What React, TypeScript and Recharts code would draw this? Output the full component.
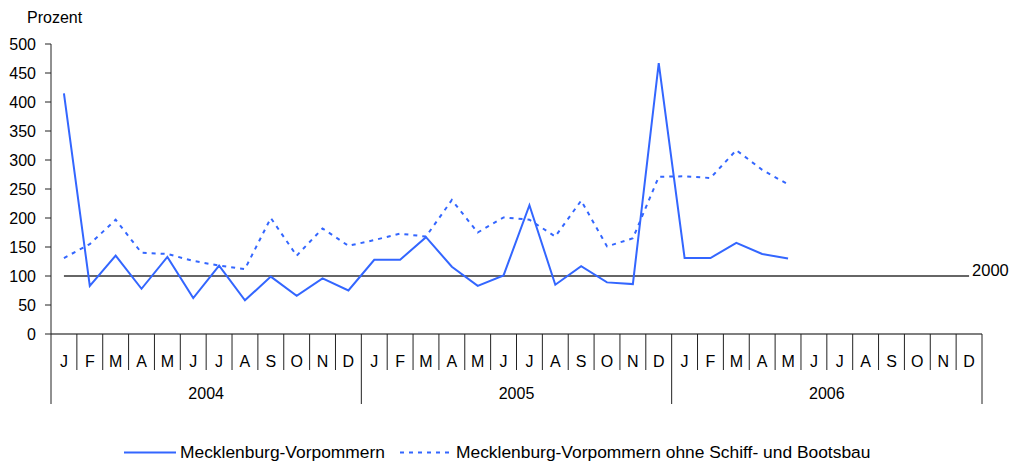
import { Legend, Line, LineChart, ReferenceLine, XAxis, YAxis } from "recharts";

const monthLetters = ["J", "F", "M", "A", "M", "J", "J", "A", "S", "O", "N", "D"];
const years = ["2004", "2005", "2006"];
const yTicks = [0, 50, 100, 150, 200, 250, 300, 350, 400, 450, 500];

// Index 2000 = 100, Monatswerte Jan 2004 – Dez 2006
const mvValues = [
  415, 83, 135, 78, 133, 62, 118, 58, 99, 66, 96, 75,
  128, 128, 167, 116, 83, 101, 222, 85, 117, 89, 86, 467,
  131, 131, 157, 138, 130, null, null, null, null, null, null, null
];
const mvOhneSchiffValues = [
  131, 155, 197, 140, 138, 126, 118, 112, 200, 135, 182, 152,
  162, 173, 168, 231, 175, 201, 197, 168, 230, 151, 165, 271,
  272, 269, 317, 283, 258, null, null, null, null, null, null, null
];
const baseValue = 100;
const baseLabel = "2000";

const seriesNames = ["Mecklenburg-Vorpommern", "Mecklenburg-Vorpommern ohne Schiff- und Bootsbau"];

const data = years.flatMap((year, yi) =>
  monthLetters.map((m, mi) => {
    const i = yi * 12 + mi;
    return {
      key: `${year}-${mi}`,
      month: m,
      year,
      mv: mvValues[i],
      mvOhne: mvOhneSchiffValues[i]
    };
  })
);

const FONT = "'Liberation Sans', Arial, sans-serif";
const BLUE = "#3366ff";
const CHART_W = 1015;
const CHART_H = 466;
const MARGIN = { top: 44, right: 33, left: 0, bottom: 2 };
const Y_AXIS_W = 51;
const BAND = (CHART_W - MARGIN.right - MARGIN.left - Y_AXIS_W) / data.length;

function MonthTick(props: any) {
  const { x, y, payload } = props;
  const idx = payload.index as number;
  const entry = data[idx];
  const left = x - BAND / 2;
  const isYearStart = idx % 12 === 0;
  return (
    <g>
      <line x1={left} x2={left} y1={y} y2={y + (isYearStart ? 70 : 36)} stroke="#222" strokeWidth={1} />
      {idx === data.length - 1 && (
        <line x1={x + BAND / 2} x2={x + BAND / 2} y1={y} y2={y + 70} stroke="#222" strokeWidth={1} />
      )}
      <text x={x} y={y + 27} textAnchor="middle" dominantBaseline="central" fontSize={16} fontFamily={FONT} fill="#000">
        {entry.month}
      </text>
      {idx % 12 === 5 && (
        <text x={x + BAND / 2} y={y + 59} textAnchor="middle" dominantBaseline="central" fontSize={16} fontFamily={FONT} fill="#000">
          {entry.year}
        </text>
      )}
    </g>
  );
}

function ProzentLabel(props: any) {
  const vb = props.viewBox || { x: 0, y: MARGIN.top };
  return (
    <text x={vb.x + 27} y={vb.y - 27} dominantBaseline="central" fontSize={16} fontFamily={FONT} fill="#000">
      Prozent
    </text>
  );
}

function BaseLabel(props: any) {
  const vb = props.viewBox || {};
  const x = (vb.x ?? 0) + (vb.width ?? 0) + 3;
  const y = (vb.y ?? 0) - 6;
  return (
    <text x={x} y={y} dominantBaseline="central" fontSize={16.5} fontFamily={FONT} fill="#000">
      {baseLabel}
    </text>
  );
}

function LegendContent() {
  const item = (dash: string | undefined, label: string, lineX: number) => (
    <div style={{ display: "flex", alignItems: "center", position: "absolute", left: lineX, top: 30 }}>
      <svg width={52} height={17} style={{ display: "block" }}>
        <line x1={0} x2={52} y1={8.5} y2={8.5} stroke={BLUE} strokeWidth={2} strokeDasharray={dash} />
      </svg>
      <span style={{ marginLeft: 4, fontSize: 17.4, lineHeight: "17px", fontFamily: FONT, color: "#000", whiteSpace: "nowrap" }}>
        {label}
      </span>
    </div>
  );
  return (
    <div style={{ position: "relative", width: CHART_W, height: 50 }}>
      {item(undefined, seriesNames[0], 124)}
      {item("4 5", seriesNames[1], 400)}
    </div>
  );
}

export default function App() {
  return (
    <div style={{ position: "absolute", left: 0, top: 0, background: "#fff" }}>
      <LineChart width={CHART_W} height={CHART_H} data={data} margin={MARGIN}>
        <XAxis
          dataKey="key"
          type="category"
          interval={0}
          height={80}
          padding={{ left: BAND / 2, right: BAND / 2 }}
          tickLine={false}
          tickSize={0}
          tickMargin={0}
          axisLine={{ stroke: "#555", strokeWidth: 1.3 }}
          tick={<MonthTick />}
        />
        <YAxis
          width={Y_AXIS_W}
          domain={[0, 500]}
          ticks={yTicks}
          interval={0}
          tickSize={6}
          tickMargin={9}
          axisLine={{ stroke: "#222" }}
          tickLine={{ stroke: "#222" }}
          tick={{ fill: "#000", fontSize: 16, fontFamily: FONT }}
          label={<ProzentLabel />}
        />
        <ReferenceLine
          segment={[
            { x: data[0].key, y: baseValue },
            { x: data[data.length - 1].key, y: baseValue }
          ]}
          stroke="#333"
          strokeWidth={1.3}
          ifOverflow="visible"
          label={<BaseLabel />}
        />
        <Line
          dataKey="mvOhne"
          name={seriesNames[1]}
          stroke={BLUE}
          strokeWidth={2}
          strokeDasharray="4 5"
          dot={false}
          activeDot={false}
          isAnimationActive={false}
        />
        <Line
          dataKey="mv"
          name={seriesNames[0]}
          stroke={BLUE}
          strokeWidth={2}
          dot={false}
          activeDot={false}
          isAnimationActive={false}
        />
        <Legend verticalAlign="bottom" height={50} content={<LegendContent />} />
      </LineChart>
    </div>
  );
}
